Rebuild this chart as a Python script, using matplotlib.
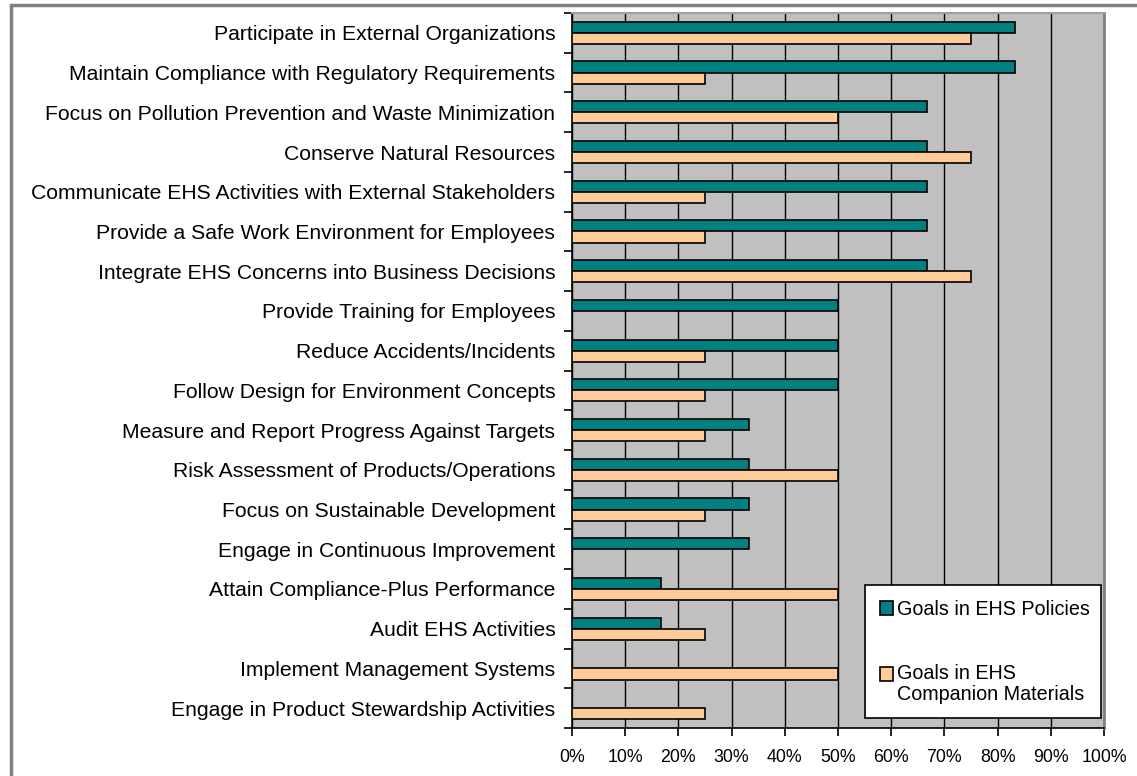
import matplotlib
matplotlib.use("Agg")
import matplotlib.pyplot as plt
import numpy as np
from matplotlib.patches import Rectangle
from matplotlib.legend_handler import HandlerPatch
from matplotlib.ticker import FixedLocator, PercentFormatter

plt.rcParams['font.family'] = ['Liberation Sans', 'DejaVu Sans']

goals = [
    "Participate in External Organizations",
    "Maintain Compliance with Regulatory Requirements",
    "Focus on Pollution Prevention and Waste Minimization",
    "Conserve Natural Resources",
    "Communicate EHS Activities with External Stakeholders",
    "Provide a Safe Work Environment for Employees",
    "Integrate EHS Concerns into Business Decisions",
    "Provide Training for Employees",
    "Reduce Accidents/Incidents",
    "Follow Design for Environment Concepts",
    "Measure and Report Progress Against Targets",
    "Risk Assessment of Products/Operations",
    "Focus on Sustainable Development",
    "Engage in Continuous Improvement",
    "Attain Compliance-Plus Performance",
    "Audit EHS Activities",
    "Implement Management Systems",
    "Engage in Product Stewardship Activities",
]

policies = [83.3, 83.3, 66.7, 66.7, 66.7, 66.7, 66.7, 50.0, 50.0, 50.0,
            33.3, 33.3, 33.3, 33.3, 16.7, 16.7, 0.0, 0.0]
companion = [75, 25, 50, 75, 25, 25, 75, 0, 25, 25,
             25, 50, 25, 0, 50, 25, 50, 25]

series_labels = ["Goals in EHS Policies", "Goals in EHS\nCompanion Materials"]
x_ticks = [0, 10, 20, 30, 40, 50, 60, 70, 80, 90, 100]

teal = "#008080"
peach = "#FFCC99"


class TopAlignedSquare(HandlerPatch):
    """Legend key placed level with the first line of a two-line label."""

    def __init__(self, shift, **kw):
        super().__init__(**kw)
        self.shift = shift

    def create_artists(self, legend, orig_handle, xdescent, ydescent,
                       width, height, fontsize, trans):
        src = orig_handle.patches[0]
        p = Rectangle((-xdescent, -ydescent + self.shift), width, height,
                      facecolor=src.get_facecolor(),
                      edgecolor=src.get_edgecolor(),
                      linewidth=src.get_linewidth())
        p.set_transform(trans)
        return [p]


fig = plt.figure(figsize=(11.37, 7.76), dpi=100)
ax = fig.add_axes([0.5031, 0.0619, 0.4679, 0.9213])
ax.set_facecolor("#C0C0C0")

y = np.arange(len(goals))
h = 0.28
bars_pol = ax.barh(y - h / 2, policies, height=h, color=teal, edgecolor="black",
                   linewidth=1.2, label=series_labels[0], zorder=3)
bars_comp = ax.barh(y + h / 2, companion, height=h, color=peach, edgecolor="black",
                    linewidth=1.2, label=series_labels[1], zorder=3)

ax.set_xlim(0, 100)
ax.set_ylim(len(goals) - 0.5, -0.5)

ax.xaxis.set_major_locator(FixedLocator(x_ticks))
ax.xaxis.set_major_formatter(PercentFormatter(decimals=0))
ax.grid(axis="x", color="black", linewidth=1.0, zorder=1)

ax.set_yticks(y)
ax.set_yticklabels(goals)
ax.set_yticks(np.arange(len(goals) + 1) - 0.5, minor=True)
ax.tick_params(axis="y", which="major", length=0, pad=12, labelsize=15.2)
ax.tick_params(axis="y", which="minor", length=6, width=1.2, color="black")
ax.tick_params(axis="x", which="major", length=6, width=1.2, pad=9,
               labelsize=12.8, color="black")

for side in ("left", "bottom"):
    ax.spines[side].set_color("black")
    ax.spines[side].set_linewidth(1.2)
ax.spines["top"].set_color("#A0A0A0")
ax.spines["top"].set_linewidth(1.5)
ax.spines["right"].set_color("#808080")
ax.spines["right"].set_linewidth(2.0)

leg = ax.legend(loc="upper left", bbox_to_anchor=(0.551, 0.0168, 0.443, 0.1832),
                mode="expand", frameon=True, fancybox=False, shadow=False,
                fontsize=14.2, handlelength=0.67, handleheight=0.67,
                handletextpad=0.2, labelspacing=2.3, borderpad=0.75,
                borderaxespad=0,
                handler_map={bars_comp: TopAlignedSquare(shift=7.5)})
leg.get_frame().set_edgecolor("black")
leg.get_frame().set_linewidth(1.2)
leg.get_frame().set_facecolor("white")
leg.get_frame().set_alpha(1)
for t in leg.get_texts():
    t.set_linespacing(1.1)

# outer chart frame
fig.patches.append(Rectangle((10.5 / 1137, -0.2), 1.3, 1.2 - 5.3 / 776,
                             transform=fig.transFigure, fill=False,
                             edgecolor="#808080", linewidth=2.5))

fig.savefig("out.png", dpi=100)
